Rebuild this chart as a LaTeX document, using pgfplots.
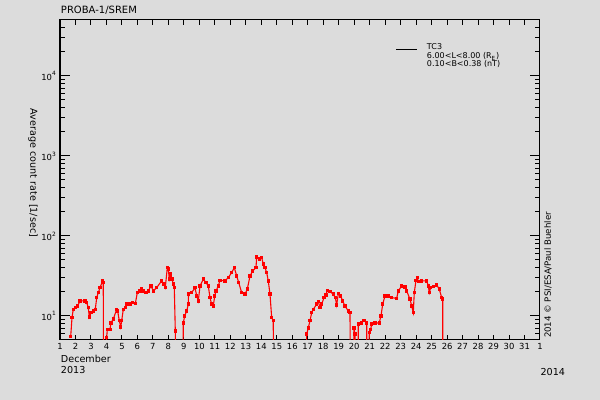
\documentclass[border=0pt]{standalone}
\usepackage{pgfplots}
\pgfplotsset{compat=1.18}
\usepackage{fontspec}
\setmainfont{DejaVu Sans}
\definecolor{bg}{RGB}{220,220,220}
\definecolor{dred}{RGB}{255,0,0}
\begin{document}
\begin{tikzpicture}[x=1pt,y=1pt]
\fill[bg] (0,0) rectangle (300,200);
\useasboundingbox (0,0) rectangle (300,200);
\begin{axis}[
  at={(30pt,30pt)}, anchor=south west,
  scale only axis, width=240pt, height=160pt,
  xmin=1, xmax=32, ymode=log, ymin=5, ymax=50000,
  axis line style={line width=0.5pt},
  xtick={1,...,32},
  xticklabels={1,2,3,4,5,6,7,8,9,10,11,12,13,14,15,16,17,18,19,20,21,22,23,24,25,26,27,28,29,30,31,1},
  minor xtick={1,...,32},
  major x tick style={draw=none},
  ytick={10,100,1000,10000},
  yticklabels={10\textsuperscript{1},10\textsuperscript{2},10\textsuperscript{3},10\textsuperscript{4}},
  minor ytick={6,7,8,9,20,30,40,50,60,70,80,90,200,300,400,500,600,700,800,900,2000,3000,4000,5000,6000,7000,8000,9000,20000,30000,40000},
  major tick length=5pt, minor tick length=2.5pt,
  tick style={black, line width=0.5pt},
  xticklabel style={font=\fontsize{4.2}{5}\selectfont, inner sep=0pt, yshift=-1.6pt},
  yticklabel style={font=\fontsize{4.2}{5}\selectfont, inner sep=0pt, xshift=-1.4pt},
  clip mode=individual,
  legend style={at={(rel axis cs:0.70,0.925)}, anchor=north west, draw=none, fill=none,
    inner sep=0pt, outer sep=0pt, nodes={inner sep=0pt}, column sep=4.5pt,
    font=\fontsize{4.0}{4.1}\selectfont},
  legend cell align=left,
  legend image code/.code={\draw[black,line width=0.5pt] (0pt,-0.3pt) -- (10.5pt,-0.3pt);},
]
\addplot[color=dred, line width=0.55pt, mark=square*, mark size=0.6pt, forget plot] coordinates {
(1.69,5.5) (1.775,9.5) (1.859,12.1) (1.988,12.7) (2.143,13.3) (2.292,15.4) (2.615,15.4) (2.724,14.7) (2.828,12.7) (2.892,9.7) (3.002,11.0) (3.151,11.5) (3.280,12.1) (3.370,16.9) (3.474,19.5) (3.583,22.6) (3.758,27.4) (3.796,26.1) (3.80,1)
(4.00,1) (4.016,5.4) (4.055,6.8) (4.229,6.8) (4.294,8.2) (4.442,9.1) (4.662,12.1) (4.726,11.5) (4.830,8.7) (4.920,7.3) (4.985,8.7) (5.088,12.1) (5.217,12.7) (5.308,14.0) (5.521,14.0) (5.695,14.7) (5.863,14.2) (5.992,19.5) (6.167,20.5) (6.277,21.6) (6.380,20.5) (6.554,19.5) (6.703,20.5) (6.877,23.7) (7.026,20.5) (7.245,22.6) (7.568,27.4) (7.717,24.9) (7.801,22.6) (7.930,40.2) (7.994,38.4) (8.059,28.8) (8.149,33.2) (8.233,28.8) (8.317,24.9) (8.382,22.6) (8.446,6.5) (8.47,1)
(8.93,1) (8.963,8.2) (9.053,10.0) (9.183,11.5) (9.286,14.0) (9.30,18.7) (9.505,19.5) (9.719,22.6) (9.829,17.8) (9.932,15.4) (10.042,23.7) (10.255,28.8) (10.429,26.1) (10.578,23.7) (10.687,16.9) (10.797,14.0) (10.901,13.3) (10.991,17.8) (11.075,20.5) (11.223,23.7) (11.333,27.9) (11.656,27.4) (11.869,30.1) (12.089,34.8) (12.257,40.2) (12.412,31.6) (12.541,26.1) (12.735,19.5) (12.948,18.7) (13.097,21.6) (13.271,31.6) (13.445,36.5) (13.658,40.2) (13.703,54.7) (13.871,51.1) (14.026,53.5) (14.129,44.3) (14.239,40.2) (14.349,34.8) (14.452,27.4) (14.562,18.7) (14.672,9.5) (14.775,8.7) (14.78,1)
(16.85,1) (16.932,5.9) (17.036,7.1) (17.146,8.7) (17.255,11.0) (17.359,12.1) (17.578,14.0) (17.682,15.1) (17.792,12.7) (17.901,14.0) (18.050,16.9) (18.179,18.3) (18.263,20.9) (18.437,20.1) (18.650,18.7) (18.779,16.9) (18.870,13.7) (18.973,19.0) (19.128,17.8) (19.258,15.4) (19.406,13.3) (19.619,11.5) (19.729,11.0) (19.76,1)
(19.96,1) (19.987,7.1) (20.052,5.9) (20.14,1) (20.24,1) (20.265,7.9) (20.485,8.2) (20.633,8.8) (20.808,8.2) (20.81,1)
(20.90,1) (20.975,6.2) (21.066,6.8) (21.130,7.9) (21.343,8.1) (21.621,8.2) (21.731,10.0) (21.841,14.0) (21.989,17.8) (22.203,17.8) (22.422,16.9) (22.745,16.6) (22.849,20.5) (23.068,23.7) (23.281,23.0) (23.391,20.5) (23.604,16.2) (23.714,13.3) (23.817,11.0) (23.881,19.5) (23.991,27.9) (24.075,30.1) (24.140,26.8) (24.359,27.4) (24.682,27.4) (24.786,23.7) (24.850,19.5) (24.941,22.6) (25.109,23.3) (25.328,24.4) (25.496,21.6) (25.651,16.9) (25.716,16.2) (25.72,1)
};
\addlegendimage{black}
\addlegendentry{\vtop{\baselineskip=4.1pt\lineskiplimit=-5pt\lineskip=0pt\hbox{TC3}\hbox{6.00<L<8.00 (R\textsubscript{E})}\hbox{0.10<B<0.38 (nT)}}}
\end{axis}
\node[anchor=west, inner sep=0pt, font=\fontsize{5}{6}\selectfont] at (30.3,194.8) {PROBA-1/SREM};
\node[anchor=west, inner sep=0pt, font=\fontsize{4.8}{6}\selectfont] at (30.3,20.6) {December};
\node[anchor=west, inner sep=0pt, font=\fontsize{4.8}{6}\selectfont] at (30.3,14.75) {2013};
\node[anchor=center, inner sep=0pt, font=\fontsize{4.8}{6}\selectfont] at (276.4,14) {2014};
\node[rotate=-90, inner sep=0pt, font=\fontsize{4.8}{6}\selectfont] at (16.5,113.5) {Average count rate [1/sec]};
\node[rotate=90, anchor=west, inner sep=0pt, font=\fontsize{4.3}{5}\selectfont] at (274,30.8) {2014 © PSI/ESA/Paul Buehler};
\end{tikzpicture}
\end{document}
